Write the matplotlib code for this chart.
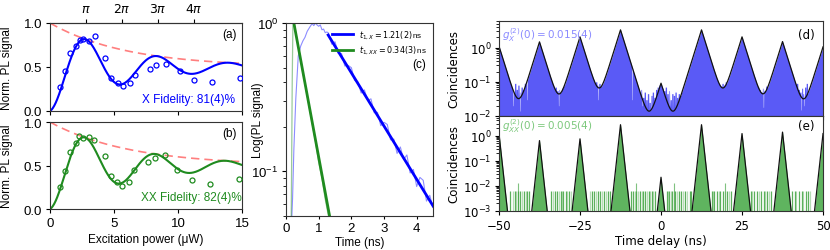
import numpy as np
import matplotlib
matplotlib.use('Agg')
import matplotlib.pyplot as plt
from matplotlib.lines import Line2D

plt.rcParams.update({
    'font.family': ['Liberation Sans', 'DejaVu Sans'],
    'font.size': 8.5,
    'axes.linewidth': 0.8,
    'axes.edgecolor': '#333333',
    'xtick.labelsize': 9.5,
    'ytick.labelsize': 9.5,
    'xtick.major.size': 3,
    'ytick.major.size': 3,
    'xtick.major.pad': 2.5,
    'ytick.major.pad': 2.5,
})

C_X = '#0000ff'
C_XX = '#1f8b1f'
C_ENV = '#ff7f7f'

# ── (a)/(b) Rabi data: excitation power (uW) vs normalised PL ──────────────
pow_x = [0.81, 1.2, 1.59, 2.0, 2.32, 2.58, 3.05, 3.49, 4.27, 4.79, 5.31, 5.70,
         6.22, 6.61, 7.79, 8.26, 9.09, 10.13, 11.22, 12.66, 14.87]
pl_x = [0.27, 0.46, 0.66, 0.74, 0.81, 0.82, 0.80, 0.85, 0.60, 0.375, 0.315, 0.28,
        0.32, 0.41, 0.48, 0.52, 0.53, 0.45, 0.35, 0.33, 0.37]
pow_xx = [0.81, 1.2, 1.59, 2.0, 2.27, 2.58, 3.02, 3.41, 4.27, 4.74, 5.26, 5.65,
          6.15, 6.54, 7.66, 8.18, 8.96, 9.92, 11.1, 12.5, 14.74]
pl_xx = [0.25, 0.44, 0.65, 0.755, 0.84, 0.82, 0.83, 0.79, 0.61, 0.38, 0.31, 0.26,
         0.31, 0.45, 0.54, 0.59, 0.62, 0.45, 0.33, 0.29, 0.34]
# damped-Rabi fit parameters: pi-pulse power, damping power
fit_x = (2.8, 6.0)
fit_xx = (2.75, 6.2)
pi_ticks = [2.8, 5.6, 8.43, 11.25]
pi_labels = [r'$\pi$', r'$2\pi$', r'$3\pi$', r'$4\pi$']

# ── (c) lifetime traces ─────────────────────────────────────────────────────
t_x = [0.15, 0.17, 0.2, 0.24, 0.3, 0.375, 0.45, 0.52, 0.58, 0.65, 0.73, 0.8,
       0.85, 0.9, 0.95, 1.0, 1.05, 1.1, 1.15, 1.2, 1.25,
       1.3, 1.4, 1.5, 1.6, 1.7, 1.8, 1.9, 2.0, 2.1, 2.2, 2.3, 2.4, 2.5, 2.6,
       2.7, 2.8, 2.9, 3.0, 3.1, 3.2, 3.3, 3.4, 3.5, 3.6, 3.7, 3.8, 3.9, 4.0,
       4.1, 4.2, 4.3, 4.4, 4.5]
pl_t_x = [0.03, 0.045, 0.065, 0.14, 0.31, 0.6, 0.7, 0.76, 0.8, 0.88, 0.94, 0.99,
          0.96, 1.0, 0.97, 0.95, 0.97, 0.9, 0.91, 0.86, 0.87,
          0.856, 0.719, 0.747, 0.624, 0.622, 0.513, 0.518, 0.500, 0.410, 0.401,
          0.337, 0.354, 0.301, 0.308, 0.248, 0.250, 0.203, 0.214, 0.207, 0.163,
          0.165, 0.132, 0.146, 0.120, 0.129, 0.0975, 0.103, 0.079, 0.091, 0.087,
          0.063, 0.069, 0.057]
t_xx = [0.13, 0.16, 0.19, 0.21, 0.23, 0.26, 0.3, 0.4, 0.5, 0.6, 0.7, 0.8, 0.9,
        1.0, 1.1, 1.2, 1.3, 1.4]
pl_t_xx = [0.01, 0.05, 0.4, 0.95, 1.0, 0.97, 0.86, 0.65, 0.48, 0.37, 0.28, 0.21,
           0.16, 0.115, 0.09, 0.065, 0.05, 0.038]
# exponential fits: (start time, amplitude, decay time)
life_x = (1.29, 0.83, 1.21)
life_xx = (0.24, 1.0, 0.365)

# ── (d)/(e) g2 histograms: peak positions (ns) and heights ─────────────────
peak_t = [-50, -37.5, -25, -12.5, 0, 12.5, 25, 37.5, 50]
peak_x = [1.1, 1.47, 2.06, 3.3, 0.09, 3.3, 2.06, 1.5, 1.05]
peak_xx = [1.2, 0.63, 0.74, 2.7, 0.022, 2.7, 1.2, 1.37, 1.2]
tau_x = 1.43
tau_xx = 0.37

# noisy floor of the X histogram (ns, coincidences)
floor_t = [-9.0, -8.5, -8.0, -7.5, -7.0, -6.5, -6.0, -5.5, -5.0, -4.5, -4.0,
           -3.5, -3.0, -2.5, -2.0, -1.5, -1.0, -0.5, 0.0, 0.5, 1.0, 1.5, 2.0,
           2.5, 3.0, 3.5, 4.0, 4.5, 5.0, 5.5, 6.0, 6.5, 7.0,
           -45.0, -44.5, -44.0, -43.5, -43.0, -42.5, -42.0,
           -32.5, -32.0, -31.5, -31.0, -30.5, -30.0,
           -20.0, -19.5, -19.0, -18.5, -18.0, -17.5,
           17.5, 18.0, 18.5, 19.0, 19.5, 20.0,
           30.0, 30.5, 31.0, 31.5, 32.0, 32.5,
           42.0, 42.5, 43.0, 43.5, 44.0, 44.5, 45.0]
floor_v = [0.07, 0.05, 0.065, 0.045, 0.055, 0.04, 0.06, 0.035, 0.05, 0.03, 0.045,
           0.025, 0.04, 0.05, 0.035, 0.06, 0.07, 0.08, 0.075, 0.065, 0.055, 0.07,
           0.045, 0.055, 0.03, 0.045, 0.04, 0.05, 0.035, 0.045, 0.04, 0.05, 0.06,
           0.09, 0.06, 0.08, 0.05, 0.07, 0.06, 0.09,
           0.07, 0.055, 0.06, 0.05, 0.065, 0.075,
           0.1, 0.08, 0.09, 0.075, 0.085, 0.1,
           0.1, 0.085, 0.075, 0.09, 0.08, 0.1,
           0.07, 0.06, 0.05, 0.065, 0.055, 0.075,
           0.09, 0.06, 0.05, 0.065, 0.045, 0.07, 0.09]
dip_t = [-45.6, -43.6, -41.4, -31.6, -19.4, -8.9, -5.9, -3.2, 2.6, 31.6, 43.3, 44.1]
dip_v = [0.02, 0.014, 0.03, 0.02, 0.03, 0.03, 0.02, 0.015, 0.02, 0.018, 0.015, 0.02]

# single-count bins of the XX histogram
spk_dark = [-46.6, -45.2, -44.1, -43.5, -42.4, -41.3, -40.6, -33.9, -32.8, -32.2,
            -31.0, -30.1, -29.3, -28.4, -21.4, -20.6, -19.5, -18.8, -17.6, -16.4,
            -15.7, -9.3, -8.5, -7.7, -6.4, -5.6, -4.9, -3.8, -2.9, -1.8, 1.8, 2.6,
            3.5, 4.4, 5.6, 6.3, 7.4, 8.8, 9.4, 15.6, 16.5, 17.3, 18.1, 19.2, 20.4,
            21.5, 27.8, 28.7, 29.6, 30.8, 31.7, 32.6, 33.8, 40.3, 41.2, 42.5, 43.4,
            44.6, 45.5]
spk_light = [-45.8, -44.7, -43.0, -41.8, -33.4, -31.6, -30.6, -28.9, -27.8, -22.0,
             -20.1, -18.2, -17.0, -8.1, -7.1, -6.0, -4.3, -3.3, -2.4, 2.2, 3.0,
             4.0, 5.0, 6.8, 8.1, 16.0, 17.8, 19.75, 21.0, 28.2, 30.2, 32.1, 33.2,
             41.7, 43.9, 46.0]
spk_tall = [-7.7, 4.0, 19.75, -44.1]
one_count = 0.0063


def rabi(p, p_pi, damp):
    return 0.5 - 0.5 * np.exp(-p / damp) * np.cos(np.pi * p / p_pi)


def g2(t, amps, tau):
    out = np.zeros_like(t)
    for c, a in zip(peak_t, amps):
        out += a * np.exp(-np.abs(t - c) / tau)
    return out


fig = plt.figure(figsize=(8.3, 2.51), dpi=100)
ax_a = fig.add_axes([0.0602, 0.5538, 0.2313, 0.3506])
ax_b = fig.add_axes([0.0602, 0.1633, 0.2313, 0.3466])
ax_c = fig.add_axes([0.3446, 0.1355, 0.1771, 0.7689])
ax_d = fig.add_axes([0.6012, 0.5339, 0.3904, 0.3785])
ax_e = fig.add_axes([0.6012, 0.1554, 0.3904, 0.3785])

# ── (a), (b) ────────────────────────────────────────────────────────────────
pp = np.linspace(0, 15, 400)
for ax, px, py, (p_pi, damp), col, lbl in [
        (ax_a, pow_x, pl_x, fit_x, C_X, '(a)'),
        (ax_b, pow_xx, pl_xx, fit_xx, C_XX, '(b)')]:
    ax.plot(pp, 0.5 + 0.5 * np.exp(-pp / damp), color=C_ENV, lw=1.2,
            dashes=(5, 3), zorder=1)
    ax.plot(pp, rabi(pp, p_pi, damp), color=col, lw=1.5, zorder=2)
    ax.plot(px, py, 'o', mfc='none', mec=col, ms=3.6, mew=0.9, zorder=3)
    ax.set_xlim(0, 15)
    ax.set_ylim(0, 1)
    ax.set_yticks([0, 0.5, 1.0])
    ax.set_xticks([0, 5, 10, 15])
    ax.set_ylabel('Norm. PL signal', fontsize=8.5)
    ax.yaxis.set_label_coords(-0.19, 0.5)
    ax.text(0.975, 0.875, lbl, transform=ax.transAxes, ha='right',
            va='center', fontsize=8.5)
ax_a.text(0.965, 0.14, 'X Fidelity: 81(4)%', transform=ax_a.transAxes,
          ha='right', va='center', fontsize=8.5, color=C_X)
ax_b.text(0.998, 0.14, 'XX Fidelity: 82(4)%', transform=ax_b.transAxes,
          ha='right', va='center', fontsize=8.5, color=C_XX)
ax_a.tick_params(labelbottom=False)
ax_b.set_xlabel('Excitation power (μW)', fontsize=8.5, labelpad=3)
top = ax_a.secondary_xaxis('top')
top.set_xticks(pi_ticks)
top.set_xticklabels(pi_labels, fontsize=9)

# ── (c) ─────────────────────────────────────────────────────────────────────
ax_c.plot(t_x, pl_t_x, color=C_X, lw=0.8, alpha=0.45)
ax_c.plot(t_xx, pl_t_xx, color=C_XX, lw=0.9, alpha=0.45)
t0, a0, tau = life_x
tt = np.linspace(t0, 4.5, 100)
ax_c.plot(tt, a0 * np.exp(-(tt - t0) / tau), color=C_X, lw=2)
t0, a0, tau = life_xx
tt = np.linspace(t0, 1.6, 100)
ax_c.plot(tt, a0 * np.exp(-(tt - t0) / tau), color=C_XX, lw=2)
ax_c.set_yscale('log')
ax_c.set_ylim(0.05, 1.0)
ax_c.set_xlim(0, 4.5)
ax_c.set_xticks([0, 1, 2, 3, 4])
ax_c.tick_params(axis='x', length=2.5, pad=1.5)
ax_c.set_xlabel('Time (ns)', fontsize=8.5, labelpad=2)
ax_c.set_ylabel('Log(PL signal)', fontsize=8.5)
ax_c.yaxis.set_label_coords(-0.15, 0.5)
handles = [Line2D([], [], color=C_X, lw=2), Line2D([], [], color=C_XX, lw=2)]
ax_c.legend(handles, [r'$t_{1,X} = 1.21(2)\,$ns', r'$t_{1,XX} = 0.34(3)\,$ns'],
            loc='upper right', fontsize=5.8, frameon=False, handlelength=2.6,
            borderaxespad=0.3, labelspacing=0.4)
ax_c.text(0.95, 0.79, '(c)', transform=ax_c.transAxes, ha='right',
          va='center', fontsize=8.5)

# ── (d) ─────────────────────────────────────────────────────────────────────
tg = np.linspace(-50, 50, 2001)
model_d = g2(tg, peak_x, tau_x)
data_d = model_d.copy()
for ft, fv in zip(floor_t, floor_v):
    m = np.abs(tg - ft) < 0.25
    data_d[m] = np.maximum(data_d[m], fv)
for ft, fv in zip(dip_t, dip_v):
    m = np.abs(tg - ft) < 0.08
    data_d[m] = fv
ax_d.fill_between(tg, 1e-3, data_d, color='#5a5af6', lw=0)
ax_d.plot(tg, model_d, color='#111111', lw=0.9)
ax_d.set_yscale('log')
ax_d.set_ylim(1e-2, 6)
ax_d.set_xlim(-50, 50)
ax_d.set_xticks([-50, -25, 0, 25, 50])
ax_d.tick_params(labelbottom=False, labelsize=8.5, labelfontfamily='DejaVu Sans')
ax_d.set_ylabel('Coincidences', fontsize=8.5, family='DejaVu Sans', labelpad=2)
ax_d.text(0.01, 0.86, r'$g^{(2)}_X(0) = 0.015(4)$', transform=ax_d.transAxes,
          ha='left', va='center', fontsize=7.5, color='#8a8aff')
ax_d.text(0.975, 0.86, '(d)', transform=ax_d.transAxes, ha='right',
          va='center', fontsize=8.5, family='DejaVu Sans')

# ── (e) ─────────────────────────────────────────────────────────────────────
model_e = g2(tg, peak_xx, tau_xx)
ax_e.fill_between(tg, 1e-4, model_e, color='#5fb45f', lw=0)
ax_e.vlines(spk_light, 1e-4, one_count, color='#5fb45f', lw=0.9, alpha=0.45)
ax_e.vlines(spk_dark, 1e-4, one_count, color='#4aa84a', lw=0.9, alpha=0.9)
ax_e.vlines(spk_tall, 1e-4, 2 * one_count, color='#4aa84a', lw=0.8, alpha=0.7)
ax_e.plot(tg, model_e, color='#111111', lw=0.9)
ax_e.set_yscale('log')
ax_e.set_ylim(1e-3, 6)
ax_e.set_xlim(-50, 50)
ax_e.set_xticks([-50, -25, 0, 25, 50])
ax_e.set_xticklabels(['\u221250', '\u221225', '0', '25', '50'])
ax_e.tick_params(labelsize=8.5, labelfontfamily='DejaVu Sans')
ax_e.set_ylabel('Coincidences', fontsize=8.5, family='DejaVu Sans', labelpad=2)
ax_e.set_xlabel('Time delay (ns)', fontsize=8.5, family='DejaVu Sans', labelpad=2)
ax_e.text(0.01, 0.9, r'$g^{(2)}_{XX}(0) = 0.005(4)$', transform=ax_e.transAxes,
          ha='left', va='center', fontsize=7.5, color='#7cc87c')
ax_e.text(0.975, 0.9, '(e)', transform=ax_e.transAxes, ha='right',
          va='center', fontsize=8.5, family='DejaVu Sans')

fig.savefig('out.png', dpi=100)
